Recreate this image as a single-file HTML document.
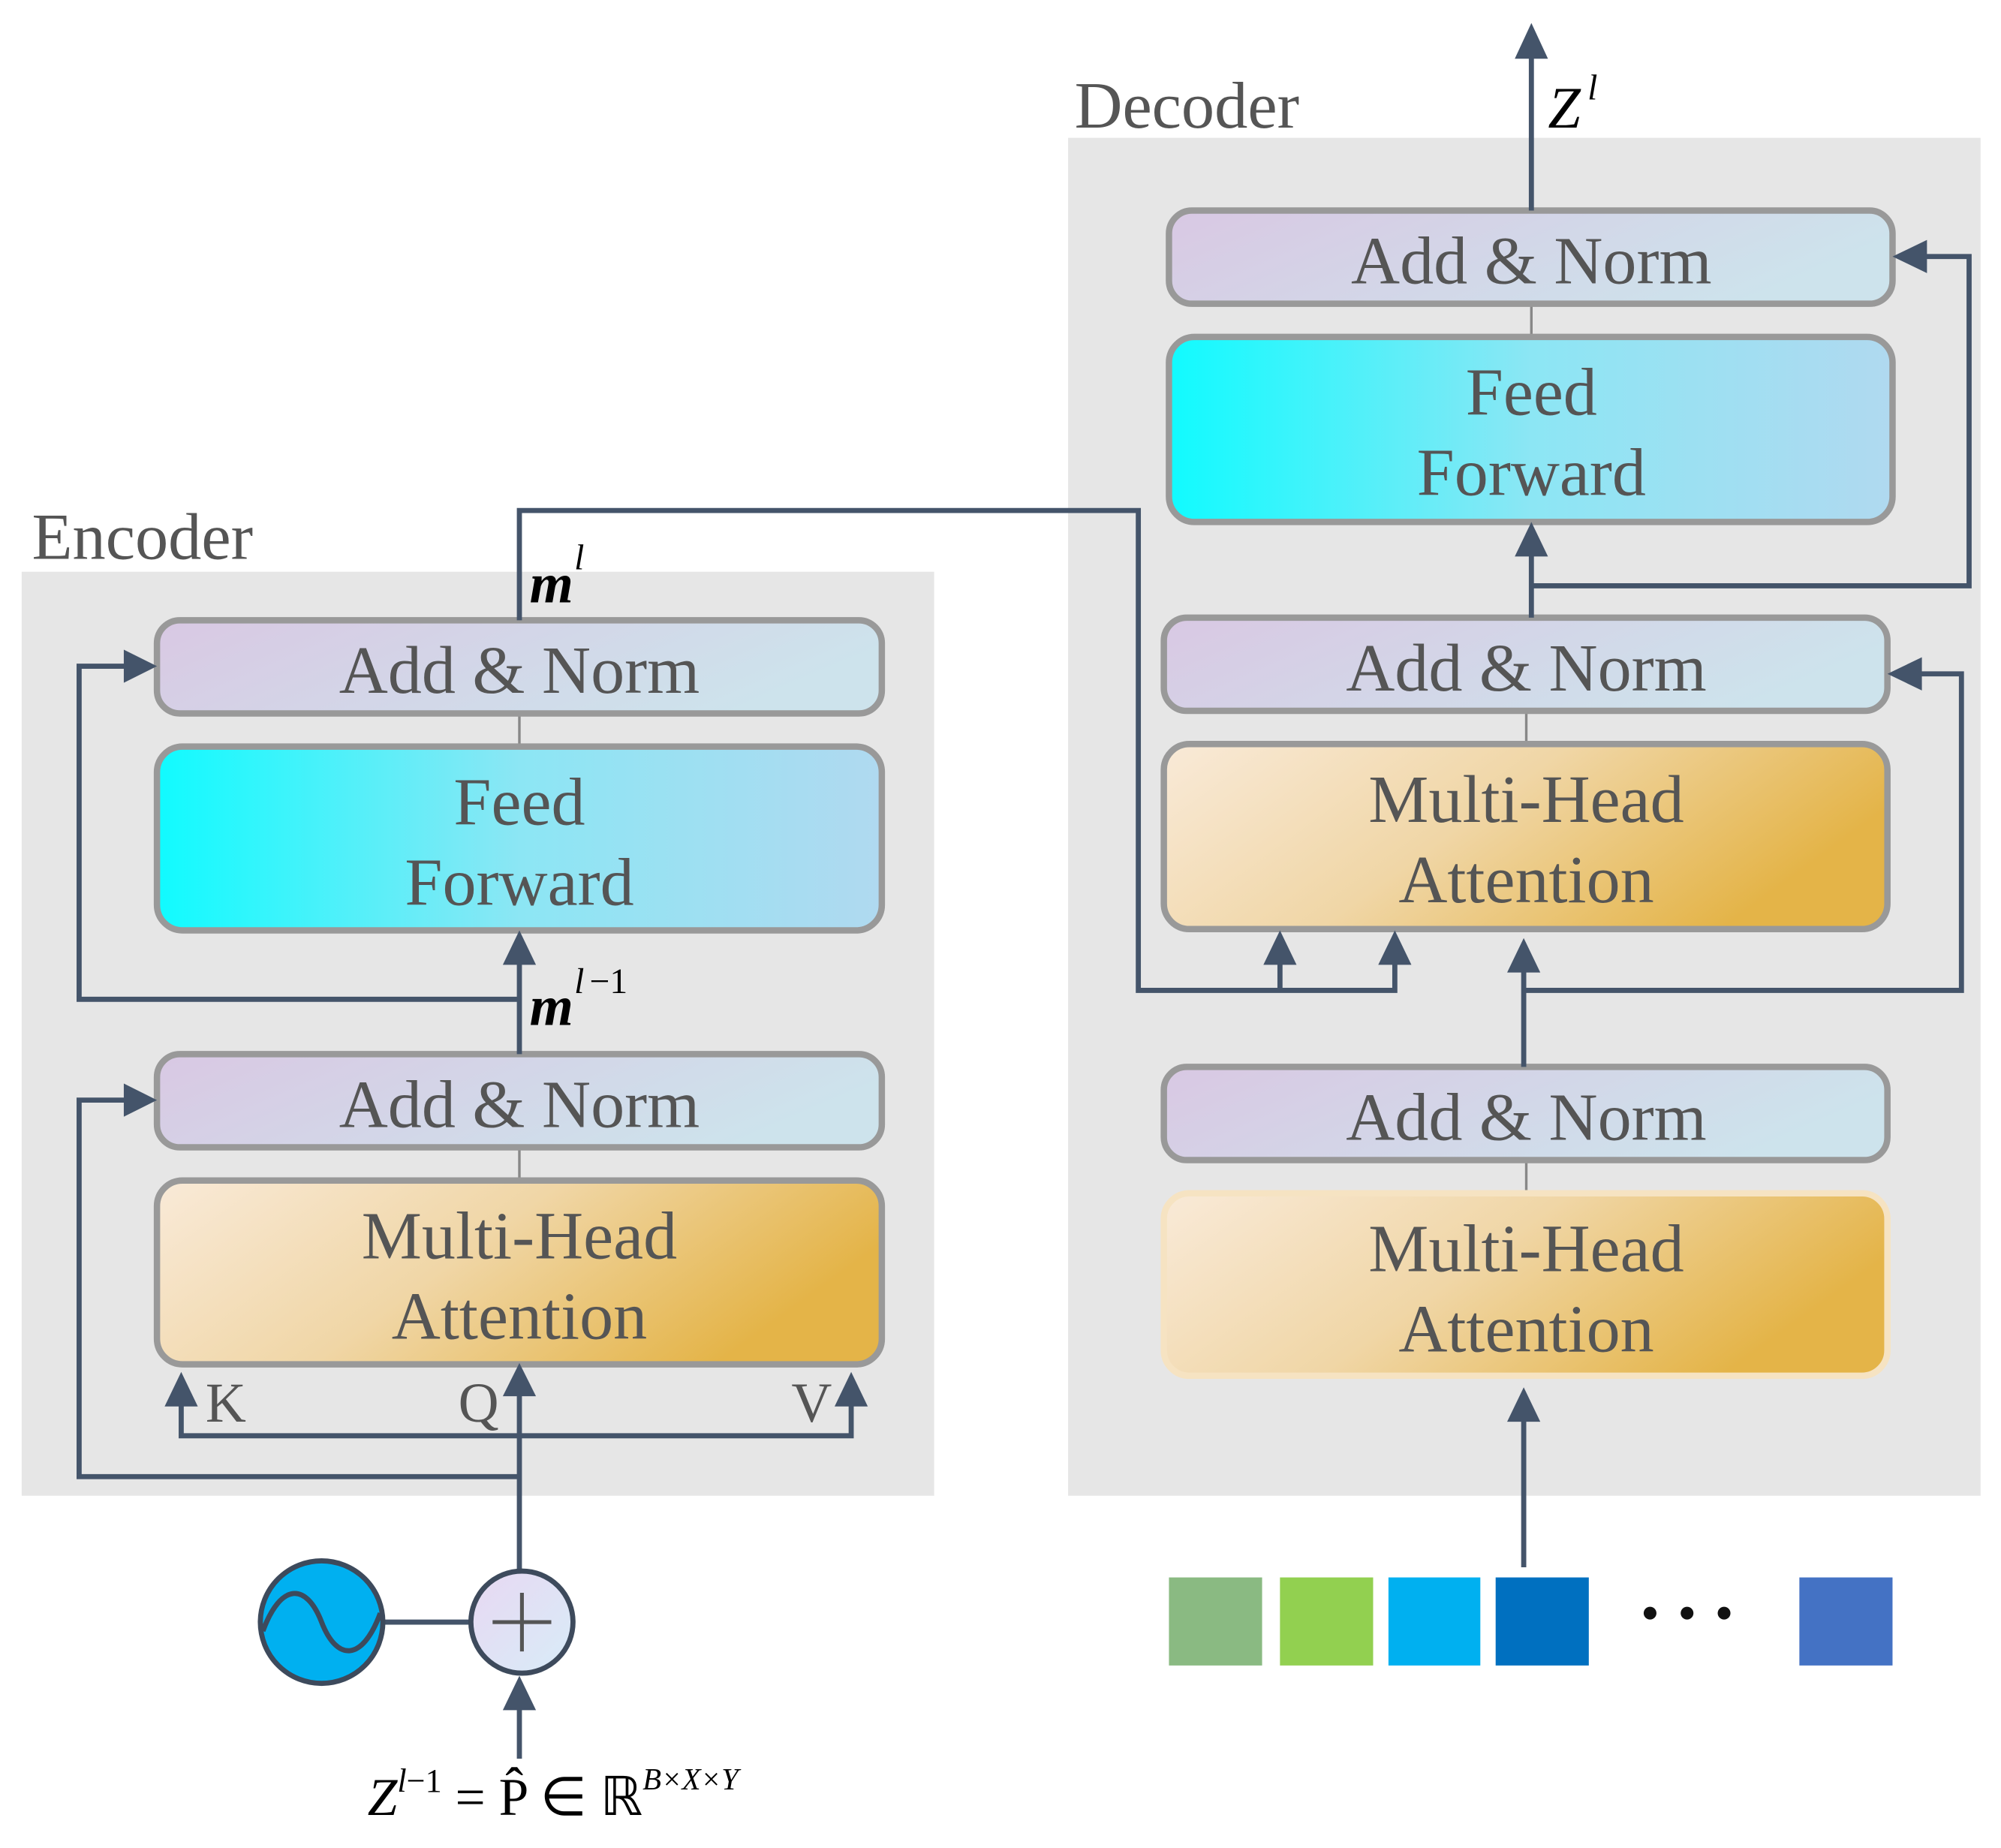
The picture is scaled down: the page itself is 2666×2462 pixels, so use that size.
<!DOCTYPE html>
<html><head><meta charset="utf-8"><style>html,body{margin:0;padding:0;background:#fff}svg{display:block}</style></head><body>
<svg width="2666" height="2462" viewBox="0 0 1568 1448" preserveAspectRatio="none" xmlns="http://www.w3.org/2000/svg" font-family="Liberation Serif, serif">
<defs>
<linearGradient id="an" x1="0" y1="0" x2="1" y2="0.3"><stop offset="0" stop-color="#d9c8e3"/><stop offset="1" stop-color="#cde3ec"/></linearGradient>
<linearGradient id="ff" x1="0" y1="0" x2="1" y2="0"><stop offset="0" stop-color="#10fbff"/><stop offset="0.5" stop-color="#8ce6f4"/><stop offset="1" stop-color="#b0d9f0"/></linearGradient>
<linearGradient id="mh" x1="0" y1="0" x2="1" y2="0.35"><stop offset="0" stop-color="#f9ead8"/><stop offset="0.5" stop-color="#f0d6a6"/><stop offset="1" stop-color="#e4b448"/></linearGradient>
<linearGradient id="pl" x1="0" y1="0" x2="1" y2="1"><stop offset="0" stop-color="#e8d8f2"/><stop offset="1" stop-color="#d8ecf8"/></linearGradient>
</defs>
<rect x="17" y="448" width="715" height="724" fill="#e6e6e6"/>
<rect x="837" y="108" width="715" height="1064" fill="#e6e6e6"/>
<text x="25" y="438" font-size="52" fill="#555">Encoder</text>
<text x="842" y="100" font-size="52" fill="#555">Decoder</text>
<g stroke="#888" stroke-width="2"><line x1="407" y1="559" x2="407" y2="585"/><line x1="407" y1="899" x2="407" y2="925"/><line x1="1200" y1="238" x2="1200" y2="264"/><line x1="1196" y1="557" x2="1196" y2="583"/><line x1="1196" y1="909" x2="1196" y2="935"/></g>
<g stroke="#999" stroke-width="5">
<rect x="123" y="486" width="568" height="73" rx="18" fill="url(#an)"/>
<rect x="123" y="585" width="568" height="144" rx="20" fill="url(#ff)"/>
<rect x="123" y="826" width="568" height="73" rx="18" fill="url(#an)"/>
<rect x="123" y="925" width="568" height="144" rx="20" fill="url(#mh)"/>
<rect x="916" y="165" width="567" height="73" rx="18" fill="url(#an)"/>
<rect x="916" y="264" width="567" height="145" rx="20" fill="url(#ff)"/>
<rect x="912" y="484" width="567" height="73" rx="18" fill="url(#an)"/>
<rect x="912" y="583" width="567" height="145" rx="20" fill="url(#mh)"/>
<rect x="912" y="836" width="567" height="73" rx="18" fill="url(#an)"/>
</g>
<rect x="912" y="935" width="567" height="143" rx="20" fill="url(#mh)" stroke="#f6e3c2" stroke-width="5"/>
<g font-size="53" fill="#555" text-anchor="middle">
<text x="407" y="543">Add &amp; Norm</text>
<text x="407" y="646">Feed</text><text x="407" y="709">Forward</text>
<text x="407" y="883">Add &amp; Norm</text>
<text x="407" y="986">Multi-Head</text><text x="407" y="1049">Attention</text>
<text x="1200" y="222">Add &amp; Norm</text>
<text x="1200" y="325">Feed</text><text x="1200" y="388">Forward</text>
<text x="1196" y="541">Add &amp; Norm</text>
<text x="1196" y="644">Multi-Head</text><text x="1196" y="707">Attention</text>
<text x="1196" y="893">Add &amp; Norm</text>
<text x="1196" y="996">Multi-Head</text><text x="1196" y="1059">Attention</text>
<text x="177" y="1114" font-size="44">K</text><text x="375" y="1114" font-size="44">Q</text><text x="636" y="1114" font-size="44">V</text>
</g>
<g stroke="#44546a" stroke-width="4" fill="none">
<polyline points="407,1230 407,1090"/>
<polyline points="142,1100 142,1125 667,1125 667,1100"/>
<polyline points="407,1157 62,1157 62,862 100,862"/>
<polyline points="407,826 407,750"/>
<polyline points="407,783 62,783 62,522 100,522"/>
<polyline points="407,486 407,400 892,400 892,776 1093,776 1093,752"/>
<polyline points="1003,776 1003,752"/>
<polyline points="1194,1228 1194,1110"/>
<polyline points="1194,836 1194,757"/>
<polyline points="1194,776 1537,776 1537,528 1502,528"/>
<polyline points="1200,484 1200,430"/>
<polyline points="1200,459 1543,459 1543,201 1506,201"/>
<polyline points="1200,165 1200,42"/>
<polyline points="407,1378 407,1336"/>
<line x1="300" y1="1271" x2="369" y2="1271"/>
</g>
<g fill="#44546a">
<polygon points="407,1068 394,1094 420,1094"/>
<polygon points="142,1075 129,1102 155,1102"/>
<polygon points="667,1075 654,1102 680,1102"/>
<polygon points="123,862 97,849 97,875"/>
<polygon points="123,522 97,509 97,535"/>
<polygon points="407,729 394,756 420,756"/>
<polygon points="1003,729 990,756 1016,756"/>
<polygon points="1093,729 1080,756 1106,756"/>
<polygon points="1194,1087 1181,1114 1207,1114"/>
<polygon points="1194,735 1181,762 1207,762"/>
<polygon points="1479,528 1506,515 1506,541"/>
<polygon points="1200,409 1187,436 1213,436"/>
<polygon points="1483,201 1510,188 1510,214"/>
<polygon points="1200,18 1187,46 1213,46"/>
<polygon points="407,1313 394,1340 420,1340"/>
</g>
<circle cx="252" cy="1271" r="48" fill="#00b0f0" stroke="#3d4a5c" stroke-width="4"/>
<path d="M206,1278 C220,1240 240,1240 252,1271 C264,1302 284,1302 298,1264" fill="none" stroke="#3d4a5c" stroke-width="4"/>
<circle cx="409" cy="1271" r="40" fill="url(#pl)" stroke="#3d4a5c" stroke-width="4"/>
<g stroke="#555" stroke-width="3"><line x1="386" y1="1271" x2="432" y2="1271"/><line x1="409" y1="1248" x2="409" y2="1294"/></g>
<g font-size="44" fill="#000" font-style="italic" font-weight="bold">
<text x="415" y="472">m</text><text x="415" y="803">m</text></g>
<g font-size="28" font-style="italic" fill="#000"><text x="450" y="446">l</text><text x="450" y="778">l</text><text x="462" y="778" font-style="normal">−1</text></g>
<text x="1213" y="100" font-size="46" font-style="italic">Z</text><text x="1244" y="78" font-size="28" font-style="italic">l</text>
<text x="288" y="1422" font-size="42"><tspan font-style="italic">Z</tspan><tspan font-size="26" dy="-18" font-style="italic">l</tspan><tspan font-size="26">−1</tspan><tspan dy="18"> = P̂ ∈ ℝ</tspan><tspan font-size="24" dy="-20" font-style="italic">B×X×Y</tspan></text>
<rect x="916" y="1236" width="73" height="69" fill="#8aba82"/>
<rect x="1003" y="1236" width="73" height="69" fill="#92d050"/>
<rect x="1088" y="1236" width="72" height="69" fill="#00b0f0"/>
<rect x="1172" y="1236" width="73" height="69" fill="#0070c0"/>
<rect x="1410" y="1236" width="73" height="69" fill="#4472c4"/>
<g fill="#111"><circle cx="1293" cy="1264" r="5"/><circle cx="1322" cy="1264" r="5"/><circle cx="1351" cy="1264" r="5"/></g>
</svg>
</body></html>
